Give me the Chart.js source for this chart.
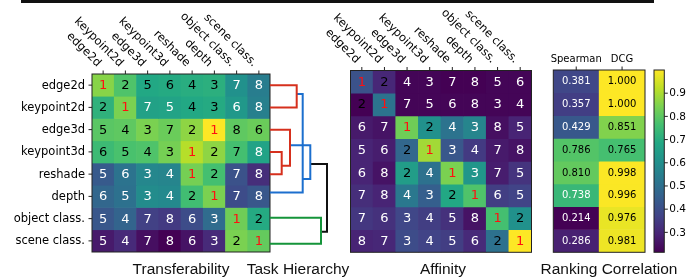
<!DOCTYPE html>
<html>
<head>
<meta charset="utf-8">
<script src="https://cdn.jsdelivr.net/npm/chart.js@4.4.0/dist/chart.umd.min.js"></script>
<style>
html, body { margin: 0; padding: 0; background: #fff; }
#wrap { position: relative; width: 700px; height: 277px; overflow: hidden; }
#wrap canvas { position: absolute; left: 0; top: 0; }
#rule { position: absolute; left: 21px; top: 0; width: 633px; height: 2.5px; background: #111; }
.title { position: absolute; top: 261px; font: 15.5px "Liberation Sans"; line-height: 15.5px; color: #111; white-space: nowrap; transform: translateX(-50%); }
</style>
</head>
<body>
<div id="wrap">
  <div id="rule"></div>
  <canvas id="transfer" width="700" height="277"></canvas>
  <canvas id="tree" width="700" height="277"></canvas>
  <canvas id="affinity" width="700" height="277"></canvas>
  <canvas id="ranking" width="700" height="277"></canvas>
  <canvas id="cbar" width="700" height="277"></canvas>
  <div class="title" style="left:181px">Transferability</div>
  <div class="title" style="left:298px">Task Hierarchy</div>
  <div class="title" style="left:443px">Affinity</div>
  <div class="title" style="left:609px">Ranking Correlation</div>
</div>
<script>
// ---- data ----
const tasks = ['edge2d', 'keypoint2d', 'edge3d', 'keypoint3d', 'reshade', 'depth', 'object class.', 'scene class.'];

// rank shown in each cell (row = target task, col = source task)
const transferRank = [
  [1, 2, 5, 6, 4, 3, 7, 8],
  [2, 1, 7, 5, 4, 3, 6, 8],
  [5, 4, 3, 7, 2, 1, 8, 6],
  [6, 5, 4, 3, 1, 2, 7, 8],
  [5, 6, 3, 4, 1, 2, 7, 8],
  [6, 5, 3, 4, 2, 1, 7, 8],
  [5, 4, 7, 8, 6, 3, 1, 2],
  [5, 4, 7, 8, 6, 3, 2, 1],
];
// normalised score behind the colour (0..1)
const transferScore = [
  [0.82, 0.72, 0.60, 0.61, 0.62, 0.63, 0.50, 0.42],
  [0.64, 0.80, 0.57, 0.58, 0.60, 0.61, 0.53, 0.43],
  [0.74, 0.75, 0.80, 0.77, 0.83, 1.00, 0.75, 0.77],
  [0.68, 0.71, 0.72, 0.79, 0.89, 0.83, 0.70, 0.58],
  [0.28, 0.38, 0.46, 0.45, 0.79, 0.70, 0.25, 0.13],
  [0.33, 0.37, 0.48, 0.47, 0.69, 0.80, 0.23, 0.27],
  [0.27, 0.32, 0.19, 0.17, 0.23, 0.35, 0.78, 0.61],
  [0.07, 0.12, 0.04, 0.00, 0.05, 0.12, 0.80, 0.76],
];

const affinityRank = [
  [1, 2, 4, 3, 7, 8, 5, 6],
  [2, 1, 7, 5, 6, 8, 3, 4],
  [6, 7, 1, 2, 4, 3, 8, 5],
  [5, 6, 2, 1, 3, 4, 7, 8],
  [6, 8, 2, 4, 1, 3, 7, 5],
  [7, 8, 4, 3, 2, 1, 6, 5],
  [7, 6, 3, 4, 5, 8, 1, 2],
  [8, 7, 3, 4, 5, 6, 2, 1],
];
const affinityScore = [
  [0.25, 0.11, 0.01, 0.01, 0.00, 0.00, 0.01, 0.01],
  [0.00, 0.38, 0.01, 0.01, 0.01, 0.01, 0.01, 0.01],
  [0.07, 0.05, 0.78, 0.50, 0.38, 0.45, 0.04, 0.10],
  [0.10, 0.08, 0.33, 0.86, 0.27, 0.17, 0.07, 0.05],
  [0.10, 0.05, 0.55, 0.37, 0.80, 0.52, 0.08, 0.15],
  [0.13, 0.10, 0.40, 0.30, 0.60, 0.72, 0.18, 0.20],
  [0.16, 0.14, 0.21, 0.18, 0.14, 0.05, 0.70, 0.50],
  [0.10, 0.11, 0.23, 0.20, 0.18, 0.12, 0.37, 1.00],
];

const corrLabels = ['Spearman', 'DCG'];
const spearman = [0.381, 0.357, 0.429, 0.786, 0.810, 0.738, 0.214, 0.286];
const dcg = [1.000, 1.000, 0.851, 0.765, 0.998, 0.996, 0.976, 0.981];
const cbarTicks = [0.3, 0.4, 0.5, 0.6, 0.7, 0.8, 0.9];

// dendrogram links: [x of upper child, y of upper child, merge height, x of lower child, y of lower child]
const treeLinks = [
  { color: '#d6301d', link: [0, 0, 26.7, 0, 1] },
  { color: '#d6301d', link: [0, 3, 11.7, 0, 4] },
  { color: '#d6301d', link: [0, 2, 20, 11.7, 3.62] },
  { color: '#1c6fce', link: [26.7, 0.4, 32.7, 0, 4.83] },
  { color: '#1c6fce', link: [20, 2.7, 40.3, 32.7, 4.22] },
  { color: '#15943a', link: [0, 5.96, 51, 0, 7.13] },
  { color: '#111111', link: [40.3, 3.54, 57, 51, 6.59] },
];

// ---- viridis ----
const viridisStops = ['#440154', '#482475', '#414487', '#355f8d', '#2a788e', '#21918c', '#22a884', '#44bf70', '#7ad151', '#bddf26', '#fde725'];
function hexRgb(h) { return [1, 3, 5].map(i => parseInt(h.substr(i, 2), 16)); }
function viridis(t) {
  t = Math.max(0, Math.min(1, t));
  const p = t * (viridisStops.length - 1);
  const i = Math.min(Math.floor(p), viridisStops.length - 2);
  const f = p - i;
  const a = hexRgb(viridisStops[i]), b = hexRgb(viridisStops[i + 1]);
  const c = a.map((v, k) => Math.round(v + (b[k] - v) * f));
  return `rgb(${c[0]},${c[1]},${c[2]})`;
}
function rankColor(rank, score) {
  if (rank === 1) return '#ff1010';
  if (rank === 2) return '#000';
  return score >= 0.6 ? '#000' : '#fff';
}

// ---- drawing of ticks, labels, cell text ----
const deco = {
  id: 'deco',
  afterDatasetsDraw(chart, args, o) {
    if (!o || !o.on) return;
    const ctx = chart.ctx, a = chart.chartArea, xs = chart.scales.x, ys = chart.scales.y;
    ctx.save();
    ctx.strokeStyle = '#222';
    ctx.lineWidth = 1;
    if (o.cells) {
      ctx.font = o.cellFont;
      ctx.textAlign = 'center';
      ctx.textBaseline = 'middle';
      o.cells.forEach((row, i) => row.forEach((txt, j) => {
        ctx.fillStyle = o.cellColors[i][j];
        ctx.fillText(txt, xs.getPixelForValue(j), ys.getPixelForValue(i) + 0.5);
      }));
    }
    if (o.border) ctx.strokeRect(a.left, a.top, a.right - a.left, a.bottom - a.top);
    if (o.top) {
      ctx.fillStyle = '#000';
      ctx.font = o.topFont;
      o.top.forEach((lab, j) => {
        const x = xs.getPixelForValue(j);
        ctx.beginPath(); ctx.moveTo(x, a.top); ctx.lineTo(x, a.top - 3.5); ctx.stroke();
        ctx.save();
        if (o.topRotate) {
          ctx.translate(x - 4, a.top - 9);
          ctx.rotate(Math.PI / 4);
          ctx.textAlign = 'right';
          ctx.textBaseline = 'middle';
          ctx.fillText(lab, 0, 0);
        } else {
          ctx.textAlign = 'center';
          ctx.textBaseline = 'alphabetic';
          ctx.fillText(lab, x, a.top - 8.5);
        }
        ctx.restore();
      });
    }
    if (o.left) {
      ctx.fillStyle = '#000';
      ctx.font = o.leftFont;
      ctx.textAlign = 'right';
      ctx.textBaseline = 'middle';
      o.left.forEach((lab, i) => {
        const y = ys.getPixelForValue(i);
        ctx.beginPath(); ctx.moveTo(a.left, y); ctx.lineTo(a.left - 3.5, y); ctx.stroke();
        ctx.fillText(lab, a.left - 7, y + 0.5);
      });
    }
    if (o.right) {
      ctx.fillStyle = '#000';
      ctx.font = o.rightFont;
      ctx.textAlign = 'left';
      ctx.textBaseline = 'middle';
      o.right.forEach(v => {
        const y = ys.getPixelForValue(v);
        ctx.beginPath(); ctx.moveTo(a.right, y); ctx.lineTo(a.right + 3.5, y); ctx.stroke();
        ctx.fillText(v.toFixed(1), a.right + 5, y + 0.5);
      });
    }
    ctx.restore();
  }
};
Chart.register(deco);

function padFor(l, t, r, b) { return { left: l, top: t, right: 700 - r, bottom: 277 - b }; }

function heatmap(id, pad, cols, colors, decoOpts) {
  return new Chart(document.getElementById(id), {
    type: 'bar',
    data: {
      labels: cols,
      datasets: colors.map((rowColors, i) => ({
        data: cols.map(() => [i - 0.5, i + 0.5]),
        backgroundColor: rowColors,
        borderWidth: 0,
        barPercentage: 1,
        categoryPercentage: 1,
        grouped: false,
      })),
    },
    options: {
      responsive: false,
      animation: false,
      events: [],
      layout: { padding: pad },
      plugins: { legend: { display: false }, tooltip: { enabled: false }, deco: decoOpts },
      scales: {
        x: { display: false, ticks: { autoSkip: false } },
        y: { display: false, type: 'linear', reverse: true, min: -0.5, max: colors.length - 0.5 },
      },
    },
  });
}

// Transferability
heatmap('transfer', padFor(92, 74, 270, 252), tasks,
  transferScore.map(r => r.map(viridis)),
  {
    on: true, border: true,
    cells: transferRank.map(r => r.map(String)),
    cellColors: transferRank.map((r, i) => r.map((k, j) => rankColor(k, transferScore[i][j]))),
    cellFont: '13px "DejaVu Sans"',
    top: tasks, topRotate: true, topFont: '11.5px "DejaVu Sans"',
    left: tasks, leftFont: '11.5px "DejaVu Sans"',
  });

// Task hierarchy dendrogram
new Chart(document.getElementById('tree'), {
  type: 'scatter',
  data: {
    datasets: treeLinks.map(d => ({
      data: [
        { x: d.link[0], y: d.link[1] },
        { x: d.link[2], y: d.link[1] },
        { x: d.link[2], y: d.link[4] },
        { x: d.link[3], y: d.link[4] },
      ],
      showLine: true,
      borderColor: d.color,
      borderWidth: 2,
      pointRadius: 0,
      clip: false,
    })),
  },
  options: {
    responsive: false,
    animation: false,
    events: [],
    layout: { padding: padFor(270, 74, 340, 252) },
    plugins: { legend: { display: false }, tooltip: { enabled: false } },
    scales: {
      x: { display: false, min: 0, max: 70 },
      y: { display: false, reverse: true, min: -0.5, max: 7.5 },
    },
  },
});

// Affinity
heatmap('affinity', padFor(350.5, 70.5, 531.5, 252.3), tasks,
  affinityScore.map(r => r.map(viridis)),
  {
    on: true, border: true,
    cells: affinityRank.map(r => r.map(String)),
    cellColors: affinityRank.map((r, i) => r.map((k, j) => rankColor(k, affinityScore[i][j]))),
    cellFont: '13px "DejaVu Sans"',
    top: tasks, topRotate: true, topFont: '11.5px "DejaVu Sans"',
  });

// Ranking correlation
const corrVals = spearman.map((s, i) => [s, dcg[i]]);
const allVals = spearman.concat(dcg);
const cMin = Math.min(...allVals), cMax = Math.max(...allVals);
const norm = v => (v - cMin) / (cMax - cMin);
heatmap('ranking', padFor(553.3, 70, 645, 252.3), corrLabels,
  corrVals.map(r => r.map(v => viridis(norm(v)))),
  {
    on: true, border: true,
    cells: corrVals.map(r => r.map(v => v.toFixed(3))),
    cellColors: corrVals.map(r => r.map(v => v >= 0.75 ? '#000' : '#fff')),
    cellFont: '10px "DejaVu Sans"',
    top: corrLabels, topRotate: false, topFont: '10px "DejaVu Sans"',
  });

// Colour bar
new Chart(document.getElementById('cbar'), {
  type: 'bar',
  data: {
    labels: [''],
    datasets: [{
      data: [[cMin, cMax]],
      borderWidth: 0,
      barPercentage: 1,
      categoryPercentage: 1,
      backgroundColor(c) {
        const area = c.chart.chartArea;
        if (!area) return '#888';
        const g = c.chart.ctx.createLinearGradient(0, area.bottom, 0, area.top);
        viridisStops.forEach((col, k) => g.addColorStop(k / (viridisStops.length - 1), col));
        return g;
      },
    }],
  },
  options: {
    responsive: false,
    animation: false,
    events: [],
    layout: { padding: padFor(654, 70, 664.3, 252.3) },
    plugins: {
      legend: { display: false }, tooltip: { enabled: false },
      deco: { on: true, border: true, right: cbarTicks, rightFont: '10.5px "DejaVu Sans"' },
    },
    scales: {
      x: { display: false },
      y: { display: false, min: cMin, max: cMax },
    },
  },
});
</script>
</body>
</html>
